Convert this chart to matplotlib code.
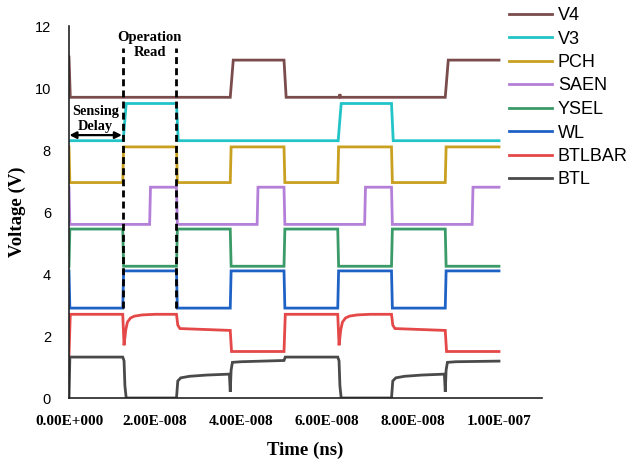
import matplotlib
matplotlib.use("Agg")
import matplotlib.pyplot as plt
import numpy as np

# ---- data (time in ns, voltage in V) ----
v4_t = [0, 0.3, 37.5, 38.2, 50.0, 50.5, 62.8, 63.0, 63.2, 87.5, 88.2, 100]
v4_v = [11.0, 9.7, 9.7, 10.9, 10.9, 9.7, 9.7, 9.8, 9.7, 9.7, 10.9, 10.9]

v3_t = [0, 12.6, 13.3, 25.0, 25.4, 62.6, 63.3, 75.0, 75.4, 100]
v3_v = [8.3, 8.3, 9.5, 9.5, 8.3, 8.3, 9.5, 9.5, 8.3, 8.3]

pch_t = [0, 0.2, 12.5, 12.7, 25.0, 25.2, 37.5, 37.7, 50.0, 50.2, 62.5, 62.7, 75.0, 75.2, 87.5, 87.7, 100]
pch_v = [8.1, 6.95, 6.95, 8.1, 8.1, 6.95, 6.95, 8.1, 8.1, 6.95, 6.95, 8.1, 8.1, 6.95, 6.95, 8.1, 8.1]

saen_t = [0, 0.2, 18.75, 18.95, 25.0, 25.2, 43.75, 43.95, 50.0, 50.2, 68.75, 68.95, 75.0, 75.2, 93.75, 93.95, 100]
saen_v = [6.8, 5.6, 5.6, 6.8, 6.8, 5.6, 5.6, 6.8, 6.8, 5.6, 5.6, 6.8, 6.8, 5.6, 5.6, 6.8, 6.8]

ysel_t = [0, 0.2, 12.5, 12.7, 25.0, 25.2, 37.5, 37.7, 50.0, 50.2, 62.5, 62.7, 75.0, 75.2, 87.5, 87.7, 100]
ysel_v = [4.25, 5.45, 5.45, 4.25, 4.25, 5.45, 5.45, 4.25, 4.25, 5.45, 5.45, 4.25, 4.25, 5.45, 5.45, 4.25, 4.25]

wl_t = [0, 0.2, 12.5, 12.7, 25.0, 25.2, 37.5, 37.7, 50.0, 50.2, 62.5, 62.7, 75.0, 75.2, 87.5, 87.7, 100]
wl_v = [4.1, 2.9, 2.9, 4.1, 4.1, 2.9, 2.9, 4.1, 4.1, 2.9, 2.9, 4.1, 4.1, 2.9, 2.9, 4.1, 4.1]

btlbar_t = [0, 0.3, 12.5, 12.8, 13.2, 13.6, 14.3, 15.2, 17.0, 20.0, 25.0, 25.3, 25.8, 37.5, 37.8,
            50.0, 50.3, 62.5, 62.8, 63.2, 63.6, 64.3, 65.2, 67.0, 70.0, 75.0, 75.3, 75.8, 87.5, 87.8, 100]
btlbar_v = [1.4, 2.7, 2.7, 1.7, 2.2, 2.45, 2.58, 2.64, 2.68, 2.7, 2.7, 2.35, 2.24, 2.18, 1.5,
            1.5, 2.7, 2.7, 1.7, 2.2, 2.45, 2.58, 2.64, 2.68, 2.7, 2.7, 2.35, 2.24, 2.18, 1.5, 1.5]

btl_t = [0, 0.2, 12.5, 12.8, 13.0, 13.3, 25.0, 25.3, 26.0, 28.0, 32.0, 37.3, 37.5, 37.7, 38.0, 40.0, 45.0, 50.0, 50.3,
         62.5, 62.8, 63.0, 63.3, 75.0, 75.3, 76.0, 78.0, 82.0, 87.3, 87.5, 87.7, 88.0, 90.0, 95.0, 100]
btl_v = [0.0, 1.32, 1.32, 1.2, 0.4, 0.0, 0.0, 0.55, 0.65, 0.7, 0.74, 0.77, 0.2, 0.9, 1.15, 1.17, 1.19, 1.21, 1.32,
         1.32, 1.2, 0.4, 0.0, 0.0, 0.55, 0.65, 0.7, 0.74, 0.77, 0.2, 0.9, 1.15, 1.17, 1.18, 1.19]

labels = ["V4", "V3", "PCH", "SAEN", "YSEL", "WL", "BTLBAR", "BTL"]
colors = ["#7a4c4c", "#22c4c8", "#c9a020", "#b47fd8", "#3a9a68", "#1f62c6", "#e44848", "#4a4a4a"]
series = [(v4_t, v4_v), (v3_t, v3_v), (pch_t, pch_v), (saen_t, saen_v),
          (ysel_t, ysel_v), (wl_t, wl_v), (btlbar_t, btlbar_v), (btl_t, btl_v)]

xticks = [0, 2e-8, 4e-8, 6e-8, 8e-8, 1e-7]
xticklabels = ["0.00E+000", "2.00E-008", "4.00E-008", "6.00E-008", "8.00E-008", "1.00E-007"]
yticks = [0, 2, 4, 6, 8, 10, 12]

marker_times = [12.5e-9, 25e-9]

# ---- figure ----
W, H = 633, 461
fig = plt.figure(figsize=(W / 100, H / 100), dpi=100)
ax = fig.add_axes([69 / W, 1 - 398 / H, (542 - 69) / W, (398 - 26) / H])

handles = []
for (t, v), lab, c in zip(series, labels, colors):
    h, = ax.plot(np.array(t) * 1e-9, v, color=c, lw=2.0, label=lab, solid_joinstyle="miter")
    handles.append(h)

ax.set_xlim(0, 1.1e-7)
ax.set_ylim(0, 12)
for s in ["top", "right"]:
    ax.spines[s].set_visible(False)
for s in ["left", "bottom"]:
    ax.spines[s].set_color("#222222")
    ax.spines[s].set_linewidth(1.2)

ax.set_xticks(xticks)
ax.set_xticklabels(xticklabels, fontfamily="Liberation Serif", fontweight="bold", fontsize=11)
ax.set_yticks(yticks)
ax.set_yticklabels([str(y) for y in yticks], fontfamily="Liberation Sans", fontsize=10.5)
ax.tick_params(axis="x", length=0, pad=12)
ax.tick_params(axis="y", length=0, pad=13)

ax.set_xlabel("Time (ns)", fontfamily="Liberation Serif", fontweight="bold", fontsize=13.5, labelpad=10)
ax.set_ylabel("Voltage (V)", fontfamily="Liberation Serif", fontweight="bold", fontsize=13.5, labelpad=6)

# annotations
ax.vlines(marker_times, 2.9, 11.3, colors="black", linestyles=(0, (2.5, 1.5)), lw=2.0, zorder=5)
ax.annotate("", xy=(0.1e-9, 8.48), xytext=(12.3e-9, 8.48),
            arrowprops=dict(arrowstyle="<|-|>", color="black", lw=1.6, mutation_scale=10, shrinkA=0, shrinkB=0))
ax.text(6.1e-9, 9.0, "Sensing\nDelay", ha="center", va="center", fontfamily="Liberation Serif",
        fontweight="bold", fontsize=10.3, linespacing=1.2)
ax.text(18.8e-9, 11.4, "Operation\nRead", ha="center", va="center", fontfamily="Liberation Serif",
        fontweight="bold", fontsize=10.5, linespacing=1.2)

fig.legend(handles=handles, labels=labels, loc="upper left", bbox_to_anchor=(509 / W, 1 - 7 / H),
           frameon=False, prop={"family": "Liberation Sans", "size": 13}, handlelength=2.4,
           handletextpad=0.3, labelspacing=0.36, borderaxespad=0, borderpad=0)

fig.savefig("out.png", dpi=100)
